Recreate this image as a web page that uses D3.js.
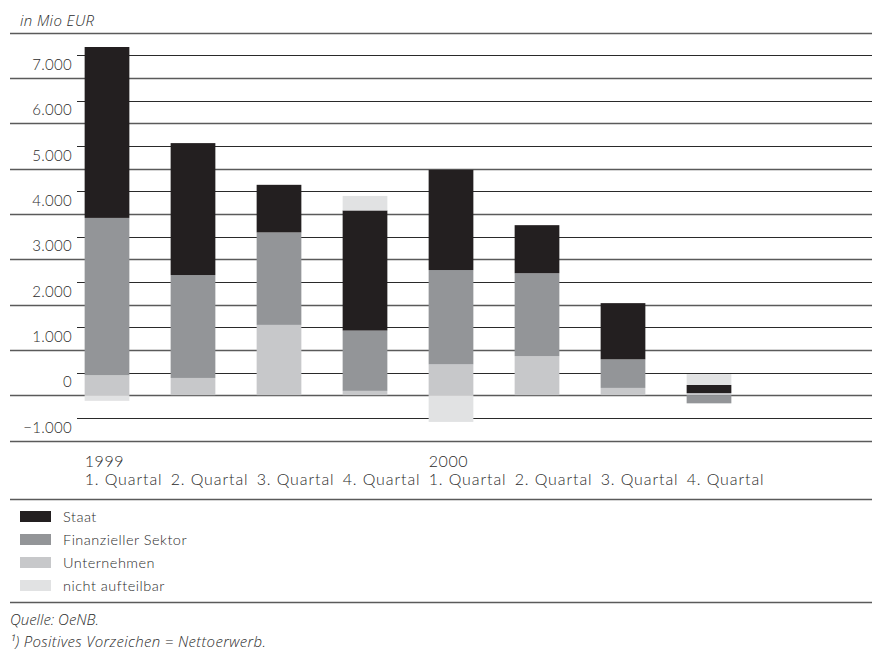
<!DOCTYPE html>
<html>
<head>
<meta charset="utf-8">
<script src="https://cdn.jsdelivr.net/npm/d3@7"></script>
<style>
  body { margin: 0; background: #fff; }
  text { font-family: Lato, "Open Sans", sans-serif; font-weight: 300; fill: #2b2b2b; }
  text.note { font-family: "Open Sans", Lato, sans-serif; font-style: italic; font-weight: 300; }
</style>
</head>
<body>
<svg></svg>
<script>
// data (Mio EUR)
var quarters = ['1999 Q1', '1999 Q2', '1999 Q3', '1999 Q4', '2000 Q1', '2000 Q2', '2000 Q3', '2000 Q4'];
var quarterLabels = ['1. Quartal', '2. Quartal', '3. Quartal', '4. Quartal', '1. Quartal', '2. Quartal', '3. Quartal', '4. Quartal'];
var yearLabels = ['1999', '', '', '', '2000', '', '', ''];
var seriesNames = ['Staat', 'Finanzieller Sektor', 'Unternehmen', 'nicht aufteilbar'];
var seriesColors = ['#231f20', '#939598', '#c7c8ca', '#e1e2e3'];
var staat = [3770, 2910, 1050, 2650, 2210, 1060, 1240, 180];
var finanz = [3470, 2270, 2040, 1330, 2080, 1830, 630, -180];
var unternehmen = [440, 380, 1550, 95, 680, 860, 160, 45];
var nichtAufteilbar = [-125, 0, 0, 320, -590, 0, 0, 240];
var yTicks = d3.range(-1000, 8001, 500);

var width = 872;
var height = 650;

var svg = d3.select('svg')
  .attr('width', width)
  .attr('height', height);

var de = d3.formatLocale({ decimal: ',', thousands: '.', grouping: [3], currency: ['', ' EUR'], minus: '\u2212' });
var fmt = de.format(',.0f');

var rows = quarters.map(function(q, i) {
  return {
    q: q,
    'Staat': staat[i],
    'Finanzieller Sektor': finanz[i],
    'Unternehmen': unternehmen[i],
    'nicht aufteilbar': nichtAufteilbar[i]
  };
});

// stacking order from the bottom up
var stackKeys = ['Unternehmen', 'Finanzieller Sektor', 'Staat', 'nicht aufteilbar'];
var stacked = d3.stack()
  .keys(stackKeys)
  .offset(d3.stackOffsetDiverging)(rows);

var color = d3.scaleOrdinal().domain(seriesNames).range(seriesColors);

var x = d3.scaleBand()
  .domain(quarters)
  .range([64, 752])
  .paddingInner(0.48)
  .paddingOuter(0.24);

var y = d3.scaleLinear()
  .domain([-1000, 8000])
  .range([440.5, 32.5]);

// gridlines: full width at thousands, short at half steps
svg.append('g')
  .selectAll('line')
  .data(yTicks)
  .enter().append('line')
  .attr('x1', function(d) { return d % 1000 === 0 ? 10 : 77; })
  .attr('x2', width)
  .attr('y1', function(d) { return Math.round(y(d)) + 0.5; })
  .attr('y2', function(d) { return Math.round(y(d)) + 0.5; })
  .attr('stroke', function(d) { return d % 1000 === 0 ? '#5a5a5a' : '#2a2a2a'; })
  .attr('stroke-width', function(d) { return d % 1000 === 0 ? 1.6 : 1.2; });

// y labels sit just above their line
svg.append('g')
  .selectAll('text')
  .data(yTicks.filter(function(d) { return d % 1000 === 0 && d < 8000; }))
  .enter().append('text')
  .attr('x', 72)
  .attr('y', function(d) { return y(d) - 8; })
  .attr('text-anchor', 'end')
  .style('font-size', '15px')
  .style('letter-spacing', '0.3px')
  .text(function(d) { return fmt(d); });

// bars
svg.append('g')
  .selectAll('g')
  .data(stacked)
  .enter().append('g')
  .attr('fill', function(d) { return color(d.key); })
  .selectAll('rect')
  .data(function(d) { return d; })
  .enter().append('rect')
  .attr('x', function(d) { return x(d.data.q); })
  .attr('width', x.bandwidth())
  .attr('y', function(d) { return y(Math.max(d[0], d[1])); })
  .attr('height', function(d) { return Math.abs(y(d[0]) - y(d[1])); });

// category labels
svg.append('g')
  .selectAll('text')
  .data(quarters)
  .enter().append('text')
  .attr('x', function(d) { return x(d); })
  .attr('y', 467)
  .style('font-size', '16px')
  .style('letter-spacing', '0.6px')
  .text(function(d, i) { return yearLabels[i]; });

svg.append('g')
  .selectAll('text')
  .data(quarters)
  .enter().append('text')
  .attr('x', function(d) { return x(d); })
  .attr('y', 485)
  .style('font-size', '16px')
  .style('letter-spacing', '0.9px')
  .text(function(d, i) { return quarterLabels[i]; });

// separators
[499, 602].forEach(function(yy) {
  svg.append('line')
    .attr('x1', 10).attr('x2', width)
    .attr('y1', yy + 0.5).attr('y2', yy + 0.5)
    .attr('stroke', '#5a5a5a')
    .attr('stroke-width', 1.6);
});

// legend
var legend = svg.append('g')
  .selectAll('g')
  .data(seriesNames)
  .enter().append('g')
  .attr('transform', function(d, i) { return 'translate(20,' + (511 + i * 23) + ')'; });

legend.append('rect')
  .attr('width', 31)
  .attr('height', 11)
  .attr('fill', function(d) { return color(d); });

legend.append('text')
  .attr('x', 43)
  .attr('y', 10.5)
  .style('font-size', '14.5px')
  .style('letter-spacing', '0.5px')
  .text(function(d) { return d; });

// unit + notes
svg.append('text')
  .attr('class', 'note')
  .attr('x', 20)
  .attr('y', 26)
  .style('font-size', '15px')
  .style('letter-spacing', '0.4px')
  .text('in Mio EUR');

svg.append('text')
  .attr('class', 'note')
  .attr('x', 10)
  .attr('y', 625)
  .style('font-size', '15px')
  .text('Quelle: OeNB.');

svg.append('text')
  .attr('class', 'note')
  .attr('x', 10)
  .attr('y', 647)
  .style('font-size', '15px')
  .style('letter-spacing', '0.35px')
  .text('\u00b9) Positives Vorzeichen = Nettoerwerb.');
</script>
</body>
</html>
